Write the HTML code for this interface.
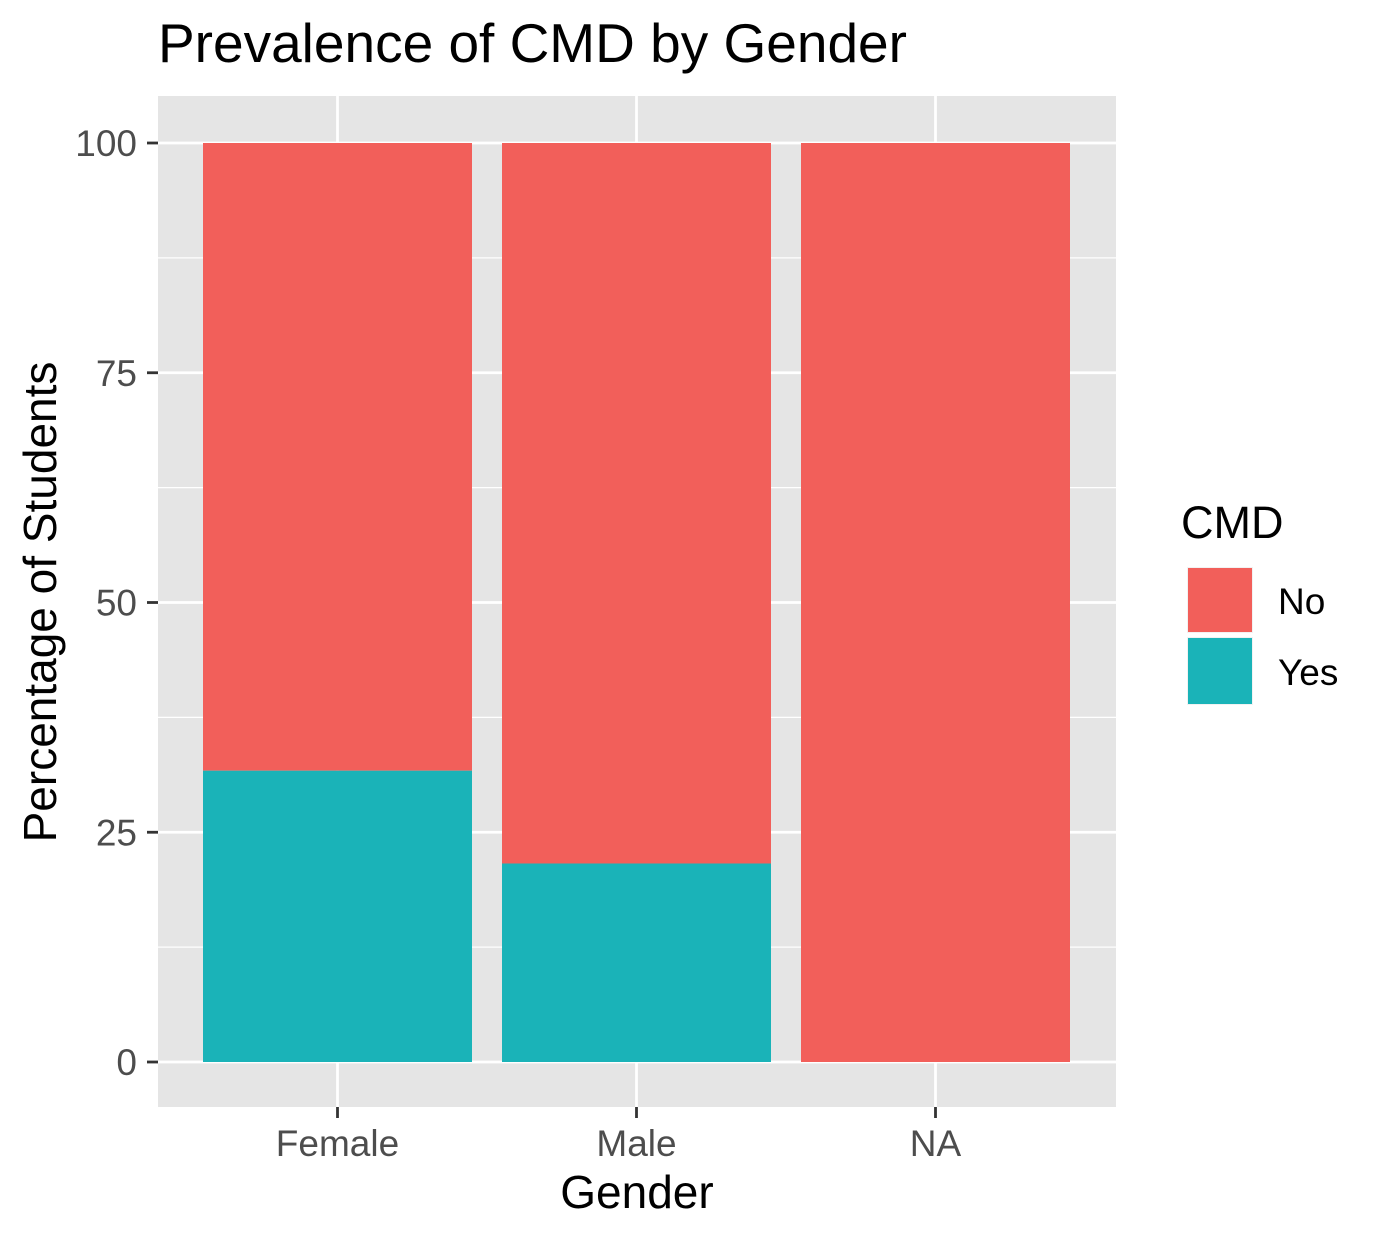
<!DOCTYPE html>
<html><head><meta charset="utf-8"><style>
body{margin:0;background:#fff;}
svg{display:block;font-family:"Liberation Sans",Arial,sans-serif;}
</style></head><body>
<svg id="chart" width="1387" height="1240" viewBox="0 0 1387 1240">
<text x="158" y="62" font-size="55" fill="#000">Prevalence of CMD by Gender</text>
<rect x="158" y="96" width="958" height="1011" fill="#e5e5e5"/>
<g id="grid"></g>
<g id="bars"></g>
<g id="axes"></g>
<text x="637" y="1208" font-size="46" text-anchor="middle" fill="#000">Gender</text>
<text transform="translate(56,602) rotate(-90)" font-size="46" text-anchor="middle" fill="#000">Percentage of Students</text>
<g>
<text x="1181" y="538" font-size="45" fill="#000">CMD</text>
<rect x="1187" y="567" width="66" height="66" fill="#f2f2f2"/>
<rect x="1188" y="568" width="64" height="64" fill="#F25F5A"/>
<text x="1278" y="614" font-size="37" fill="#000">No</text>
<rect x="1187" y="637" width="66" height="68" fill="#f2f2f2"/>
<rect x="1188" y="638" width="64" height="66" fill="#1AB3B8"/>
<text x="1278" y="685" font-size="37" fill="#000">Yes</text>
</g>
</svg>
<script>
const categories = ["Female","Male","NA"];
const yesValues = [31.7, 21.6, 0];
const noValues = [68.3, 78.4, 100];
const yTicks = [0,25,50,75,100];
const yMinor = [12.5,37.5,62.5,87.5];
const NS="http://www.w3.org/2000/svg";
const y0=1062, y100=143;
function yScale(v){return y0-(y0-y100)*v/100;}
function xScale(i){return 337.5+299*i;}
const bw=269;
function mk(tag,attrs,parent){const e=document.createElementNS(NS,tag);for(const k in attrs)e.setAttribute(k,attrs[k]);parent.appendChild(e);return e;}
const grid=document.getElementById('grid'),bars=document.getElementById('bars'),axes=document.getElementById('axes');
yMinor.forEach(v=>{const l=mk('line',{x1:158,x2:1116,y1:yScale(v),y2:yScale(v),stroke:'#fff','stroke-width':1.3},grid);

});
yTicks.forEach(v=>{const l=mk('line',{x1:158,x2:1116,y1:yScale(v),y2:yScale(v),stroke:'#fff','stroke-width':2.8},grid);


const t=mk('line',{x1:147,x2:158,y1:yScale(v),y2:yScale(v),stroke:'#333','stroke-width':2.8},axes);


const tx=mk('text',{x:137,y:yScale(v)+13,'font-size':37,'text-anchor':'end',fill:'#4d4d4d'},axes);tx.textContent=v;

});
categories.forEach((c,i)=>{const x=xScale(i);
const g=mk('line',{x1:x,x2:x,y1:96,y2:1107,stroke:'#fff','stroke-width':2.8},grid);


const t=mk('line',{x1:x,x2:x,y1:1107,y2:1118,stroke:'#333','stroke-width':2.8},axes);


const tx=mk('text',{x:x,y:1156,'font-size':37,'text-anchor':'middle',fill:'#4d4d4d'},axes);tx.textContent=c;


const yv=yesValues[i],nv=noValues[i];
const rn=mk('rect',{x:x-bw/2,y:yScale(yv+nv),width:bw,height:yScale(yv)-yScale(yv+nv),fill:'#F25F5A'},bars);


if(yv>0){const ry=mk('rect',{x:x-bw/2,y:yScale(yv),width:bw,height:y0-yScale(yv),fill:'#1AB3B8'},bars);

}
});
</script>
</body></html>
